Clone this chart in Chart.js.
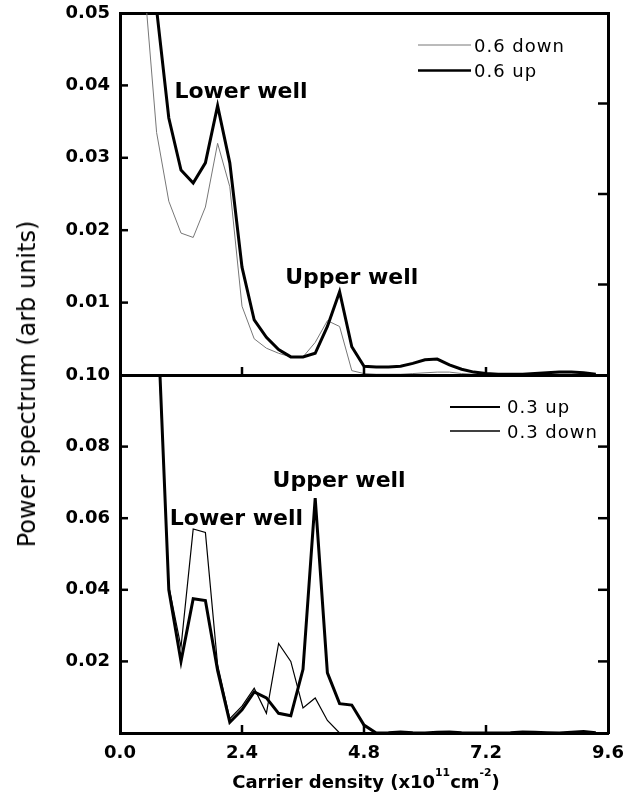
<!DOCTYPE html>
<html><head><meta charset="utf-8">
<script src="https://cdn.jsdelivr.net/npm/chart.js@4.4.1/dist/chart.umd.min.js"></script>
<style>
html,body{margin:0;padding:0;background:#fff;}
#wrap{position:relative;width:637px;height:796px;overflow:hidden;background:#fff;}
#topBox{position:absolute;left:0;top:0;width:637px;height:387px;}
#botBox{position:absolute;left:0;top:355px;width:637px;height:441px;}
#ytitle{position:absolute;left:27px;top:384px;transform:translate(-50%,-50%) rotate(-90deg);font-family:'DejaVu Sans';font-size:24px;white-space:nowrap;color:#000;}
#xtitle{position:absolute;left:366px;top:771px;transform:translateX(-50%);font-family:'DejaVu Sans';font-weight:bold;font-size:18px;line-height:21px;white-space:nowrap;color:#000;}
#xtitle sup{font-size:0.6em;vertical-align:12px;line-height:0;}
</style></head>
<body><div id="wrap">
<div id="topBox"><canvas id="cTop"></canvas></div>
<div id="botBox"><canvas id="cBot"></canvas></div>
<div id="ytitle">Power spectrum (arb units)</div>
<div id="xtitle">Carrier density (x10<sup>11</sup>cm<sup>-2</sup>)</div>
</div>
<script>
// Carrier density grid (x10^11 cm^-2)
const density = [0.48,0.72,0.96,1.20,1.44,1.68,1.92,2.16,2.40,2.64,2.88,3.12,3.36,3.60,3.84,4.08,4.32,4.56,4.80,5.04,5.28,5.52,5.76,6.00,6.24,6.48,6.72,6.96,7.20,7.44,7.68,7.92,8.16,8.40,8.64,8.88,9.12,9.36];
// Top panel
const up06   = [0.070,0.0505,0.0355,0.0283,0.0265,0.0293,0.0372,0.0293,0.0149,0.0076,0.0052,0.0035,0.0025,0.0025,0.0030,0.0067,0.0115,0.0039,0.0012,0.0011,0.0011,0.0012,0.0016,0.0021,0.0022,0.0014,0.0008,0.0004,0.0002,0.0001,0.0001,0.0001,0.0002,0.0003,0.0004,0.0004,0.0003,0.0001];
const down06 = [0.054,0.0335,0.0240,0.0196,0.0190,0.0232,0.0320,0.0260,0.0095,0.0050,0.0037,0.0030,0.0025,0.0025,0.0045,0.0075,0.0067,0.0006,0.0002,0.0001,0.0001,0.0001,0.0002,0.0003,0.0004,0.0004,0.0002,0.0001,0.0001,0.0001,0.0001,0.0001,0.0001,0.0001,0.0001,0.0001,0.0001,0.0001];
// Bottom panel
const up03   = [null,0.123,0.040,0.020,0.0375,0.037,0.0175,0.003,0.0065,0.0115,0.0098,0.0055,0.0048,0.0178,0.0656,0.0168,0.0082,0.0078,0.0022,0.0,0.0001,0.0003,0.0001,0.0,0.0002,0.0003,0.0001,0.0,0.0,0.0,0.0001,0.0003,0.0002,0.0001,0.0,0.0002,0.0004,0.0001];
const down03 = [null,0.120,0.041,0.024,0.057,0.056,0.019,0.004,0.0075,0.0125,0.0055,0.025,0.020,0.007,0.0098,0.0035,0.0,0.0,0.0,0.0,0.0,0.0,0.0,0.0,0.0,0.0,0.0,0.0,0.0,0.0,0.0,0.0,0.0,0.0,0.0,0.0,0.0,0.0];
const xTicks = [0, 2.4, 4.8, 7.2, 9.6];
const topYTicks = [0, 0.01, 0.02, 0.03, 0.04, 0.05];
const botYTicks = [0, 0.02, 0.04, 0.06, 0.08, 0.10];

const pts = (xs, ys) => xs.map((x, i) => ({x, y: ys[i]}));

const innerTicks = {
  id: 'innerTicks',
  afterDraw(chart, args, opts) {
    const ctx = chart.ctx, a = chart.chartArea;
    ctx.save();
    ctx.strokeStyle = '#000';
    ctx.lineWidth = 2.5;
    for (const [id, len] of Object.entries(opts.scales || {})) {
      const s = chart.scales[id];
      s.ticks.forEach(t => {
        if (t.value <= s.min + 1e-9 || t.value >= s.max - 1e-9) return;
        const p = s.getPixelForValue(t.value);
        ctx.beginPath();
        if (s.isHorizontal()) {
          const y = s.position === 'bottom' ? a.bottom : a.top;
          const d = s.position === 'bottom' ? -1 : 1;
          ctx.moveTo(p, y); ctx.lineTo(p, y + d * len);
        } else {
          const x = s.position === 'left' ? a.left : a.right;
          const d = s.position === 'left' ? 1 : -1;
          ctx.moveTo(x, p); ctx.lineTo(x + d * len, p);
        }
        ctx.stroke();
      });
    }
    ctx.restore();
  }
};

const marks = {
  id: 'marks',
  afterDatasetsDraw(chart, args, opts) {
    const ctx = chart.ctx, a = chart.chartArea;
    const xs = chart.scales.x, ys = chart.scales.y;
    ctx.save();
    ctx.fillStyle = '#000';
    ctx.textBaseline = 'alphabetic';
    ctx.font = 'bold 22px "DejaVu Sans"';
    ctx.textAlign = 'center';
    (opts.notes || []).forEach(n => {
      ctx.fillText(n.text, xs.getPixelForValue(n.x), ys.getPixelForValue(n.y));
    });
    ctx.textAlign = 'left';
    ctx.font = '18px "DejaVu Sans"';
    try { ctx.letterSpacing = '1px'; } catch (e) {}
    (opts.legend || []).forEach(l => {
      const ds = chart.data.datasets[l.ds];
      ctx.strokeStyle = ds.borderColor;
      ctx.lineWidth = l.lw;
      ctx.beginPath();
      ctx.moveTo(a.right - opts.lineStart, a.top + l.lineDy);
      ctx.lineTo(a.right - opts.lineEnd, a.top + l.lineDy);
      ctx.stroke();
      ctx.fillText(ds.label, a.right - opts.textStart, a.top + l.textDy);
    });
    ctx.restore();
  }
};

const tickFont = {family: 'DejaVu Sans', weight: 'bold', size: 18};
const noGrid = {display: false, drawTicks: false};
const bord = {display: true, width: 3, color: '#000'};
const zeroPad = s => { s.paddingTop = 0; s.paddingBottom = 0; s.paddingLeft = 0; s.paddingRight = 0; };

function makeScales(yMax, y2Step, showX) {
  return {
    x: {type: 'linear', position: 'bottom', min: 0, max: 9.6,
        afterBuildTicks: s => { s.ticks = xTicks.map(v => ({value: v})); },
        ticks: {display: showX, padding: 10, color: '#000', font: tickFont, maxRotation: 0, autoSkip: false,
                callback: v => Number(v).toFixed(1)},
        grid: noGrid, border: bord,
        afterFit: s => { s.height = showX ? 63 : 0; zeroPad(s); }},
    x2: {type: 'linear', position: 'top', min: 0, max: 9.6, ticks: {display: false},
         grid: noGrid, border: bord, afterFit: s => { s.height = 0; zeroPad(s); }},
    y: {type: 'linear', position: 'left', min: 0, max: yMax,
        afterBuildTicks: s => { s.ticks = (yMax > 0.06 ? botYTicks : topYTicks).map(v => ({value: v})); },
        ticks: {padding: 10, color: '#000', font: tickFont,
                callback: v => Math.abs(v) < 1e-9 ? '' : Number(v).toFixed(2)},
        grid: noGrid, border: bord, afterFit: s => { s.width = 120; zeroPad(s); }},
    y2: {type: 'linear', position: 'right', min: 0, max: yMax,
         ticks: {display: false, stepSize: y2Step},
         grid: noGrid, border: bord, afterFit: s => { s.width = 0; zeroPad(s); }}
  };
}

const lineDefaults = {pointRadius: 0, tension: 0, borderJoinStyle: 'miter', clip: 0, fill: false, xAxisID: 'x', yAxisID: 'y'};

new Chart(document.getElementById('cTop'), {
  type: 'line',
  data: {datasets: [
    Object.assign({label: '0.6 up', data: pts(density, up06), borderColor: '#000', borderWidth: 3}, lineDefaults),
    Object.assign({label: '0.6 down', data: pts(density, down06), borderColor: '#777', borderWidth: 1}, lineDefaults)
  ]},
  options: {
    responsive: true, maintainAspectRatio: false, animation: false, devicePixelRatio: 1,
    layout: {padding: {left: 0, right: 29, top: 13, bottom: 12}},
    scales: makeScales(0.05, 0.0125, false),
    plugins: {
      legend: {display: false}, tooltip: {enabled: false},
      innerTicks: {scales: {x: 8, y: 8, y2: 10}},
      marks: {
        notes: [{text: 'Lower well', x: 2.38, y: 0.0383}, {text: 'Upper well', x: 4.56, y: 0.0126}],
        lineStart: 190, lineEnd: 137, textStart: 134,
        legend: [{ds: 1, lw: 1, lineDy: 32, textDy: 39}, {ds: 0, lw: 2.5, lineDy: 57.5, textDy: 64}]
      }
    }
  },
  plugins: [innerTicks, marks]
});

new Chart(document.getElementById('cBot'), {
  type: 'line',
  data: {datasets: [
    Object.assign({label: '0.3 up', data: pts(density, up03), borderColor: '#000', borderWidth: 3}, lineDefaults),
    Object.assign({label: '0.3 down', data: pts(density, down03), borderColor: '#000', borderWidth: 1.2}, lineDefaults)
  ]},
  options: {
    responsive: true, maintainAspectRatio: false, animation: false, devicePixelRatio: 1,
    layout: {padding: {left: 0, right: 29, top: 20, bottom: 0}},
    scales: makeScales(0.10, 0.02, true),
    plugins: {
      legend: {display: false}, tooltip: {enabled: false},
      innerTicks: {scales: {x: 8, y: 8, y2: 10}},
      marks: {
        notes: [{text: 'Lower well', x: 2.29, y: 0.0581}, {text: 'Upper well', x: 4.31, y: 0.0687}],
        lineStart: 158, lineEnd: 108, textStart: 101,
        legend: [{ds: 0, lw: 2, lineDy: 32, textDy: 38}, {ds: 1, lw: 1.5, lineDy: 56, textDy: 63}]
      }
    }
  },
  plugins: [innerTicks, marks]
});
</script>
</body></html>
